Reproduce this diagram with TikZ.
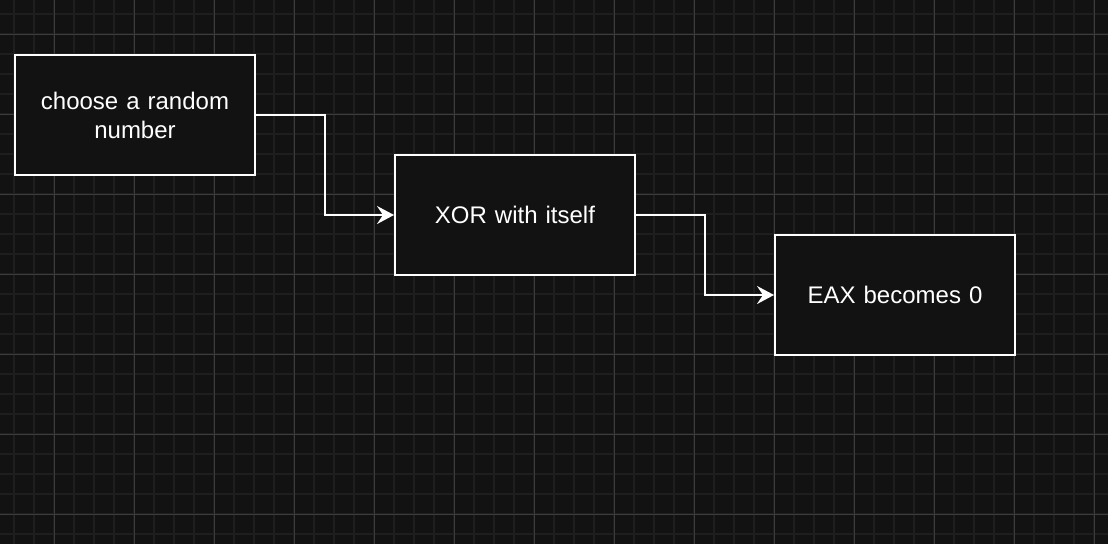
\documentclass[tikz,border=0pt]{standalone}
\usepackage{fontspec}
\setmainfont{Liberation Sans}
\usetikzlibrary{arrows.meta}
\definecolor{bgc}{HTML}{121212}
\definecolor{minorc}{HTML}{1E1E1E}
\definecolor{majorc}{HTML}{3C3C3C}
\begin{document}
\begin{tikzpicture}[x=1pt,y=-1pt,
  stepbox/.style={draw=white,line width=2pt,fill=bgc,minimum width=240pt,minimum height=120pt,
    inner sep=0pt,text=white,align=center,font=\fontsize{24}{29}\selectfont,text width=230pt},
  conn/.style={draw=white,line width=2pt,-{Stealth[length=17pt,width=18pt,inset=6pt]}}]
\fill[bgc] (0,0) rectangle (1108,544);
\useasboundingbox (0,0) rectangle (1108,544);
\foreach \i in {0,...,54} {\draw[minorc,line width=2pt] (14+20*\i,0) -- (14+20*\i,544);}
\foreach \j in {0,...,26} {\draw[minorc,line width=2pt] (0,14+20*\j) -- (1108,14+20*\j);}
\foreach \i in {0,...,13} {\draw[majorc,line width=1pt] (54+80*\i,0) -- (54+80*\i,544);}
\foreach \j in {0,...,6} {\draw[majorc,line width=1pt] (0,34+80*\j) -- (1108,34+80*\j);}
\node[stepbox] (a) at (135,115) {choose a random\\number};
\node[stepbox] (b) at (515,215) {XOR with itself};
\node[stepbox] (c) at (895,295) {EAX becomes 0};
\draw[conn] (a.east) -| (325,215) -- (b.west);
\draw[conn] (b.east) -| (705,295) -- (c.west);
\end{tikzpicture}
\end{document}
